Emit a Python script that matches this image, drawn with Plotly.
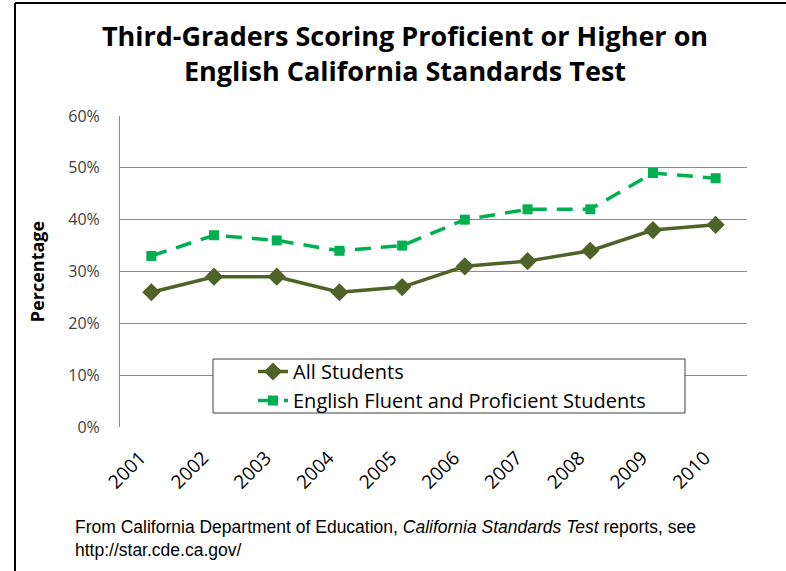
import plotly.graph_objects as go

years = ["2001", "2002", "2003", "2004", "2005", "2006", "2007", "2008", "2009", "2010"]
all_students = [26, 29, 29, 26, 27, 31, 32, 34, 38, 39]
english_fluent = [33, 37, 36, 34, 35, 40, 42, 42, 49, 48]
y_ticks = [0, 10, 20, 30, 40, 50, 60]
y_tick_labels = ["0%", "10%", "20%", "30%", "40%", "50%", "60%"]

W, H = 786, 571
L, R, T, B = 120, 39, 116, 144
pw, ph = W - L - R, H - T - B

def px_x(x):
    return (x - L) / pw

def px_y(y):
    return (H - B - y) / ph

FONT = "Open Sans"

fig = go.Figure()
fig.add_trace(go.Scatter(
    x=years, y=all_students, name="All Students", mode="lines+markers",
    line=dict(color="#4F6228", width=3.5),
    marker=dict(symbol="diamond", size=14, color="#4F6228"),
))
fig.add_trace(go.Scatter(
    x=years, y=english_fluent, name="English Fluent and Proficient Students",
    mode="lines+markers",
    line=dict(color="#00B050", width=3.5, dash="16px,10px"),
    marker=dict(symbol="square", size=10, color="#00B050"),
))

fig.update_layout(
    width=W, height=H,
    margin=dict(l=L, r=R, t=T, b=B, pad=0),
    paper_bgcolor="white", plot_bgcolor="white",
    font=dict(family=FONT, color="#000000"),
    title=dict(
        text="Third-Graders Scoring Proficient or Higher on<br>English California Standards Test",
        x=px_x(405), xanchor="center", xref="paper", y=1 - 46 / H, yanchor="middle",
        font=dict(family=FONT, size=27, color="black", weight="bold"),
    ),
    xaxis=dict(
        type="category", tickangle=-45, showgrid=False, showline=False,
        ticks="", tickfont=dict(family=FONT, size=19, color="black"),
        ticklabelstandoff=15, ticklabelshift=-11,
        range=[-0.5, 9.5], fixedrange=True,
    ),
    yaxis=dict(
        range=[0, 60], tickvals=y_ticks, ticktext=y_tick_labels,
        showgrid=True, gridcolor="#8C8C8C", gridwidth=1,
        showline=True, linecolor="#8C8C8C", linewidth=1,
        zeroline=False, ticks="", ticklabelstandoff=16,
        tickfont=dict(family=FONT, size=16, color="#404040"),
        title=dict(text="Percentage", font=dict(family=FONT, size=18, color="black", weight="bold"), standoff=18),
    ),
    legend=dict(
        x=px_x(253), y=px_y(352), xanchor="left", yanchor="top",
        bgcolor="rgba(0,0,0,0)", borderwidth=0,
        font=dict(family=FONT, size=20, color="black"),
        tracegroupgap=0,
    ),
    showlegend=True,
)

# legend box
fig.add_shape(type="rect", xref="paper", yref="paper", layer="above",
              x0=px_x(213), x1=px_x(685), y0=px_y(359), y1=px_y(413),
              fillcolor="white", line=dict(color="#404040", width=1))

# outer frame (left and top edges)
fig.add_shape(type="line", xref="paper", yref="paper",
              x0=px_x(15), x1=px_x(15), y0=px_y(3), y1=px_y(H),
              line=dict(color="black", width=2))
fig.add_shape(type="line", xref="paper", yref="paper",
              x0=px_x(15), x1=px_x(W), y0=px_y(3), y1=px_y(3),
              line=dict(color="black", width=2))

fig.add_annotation(
    xref="paper", yref="paper", x=px_x(73), y=px_y(538),
    xanchor="left", yanchor="middle", align="left", showarrow=False,
    text="From California Department of Education, <i>California Standards Test</i> reports, see<br>http://star.cde.ca.gov/",
    font=dict(family="Liberation Sans", size=17.5, color="black"),
)

fig.write_html("out.html", config={"displayModeBar": False},
               post_script="document.body.style.margin='0';document.body.style.overflow='hidden';")
